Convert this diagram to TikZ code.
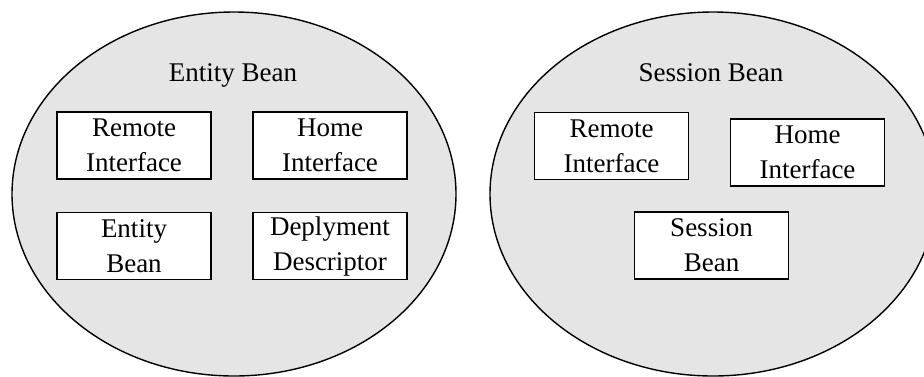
\documentclass[tikz,border=0pt]{standalone}
\usepackage{fontspec}
\setmainfont{Liberation Serif}
\usetikzlibrary{shapes.geometric}
\definecolor{zonegray}{RGB}{229,229,229}
\begin{document}
\begin{tikzpicture}[x=1pt,y=-1pt,
  zone/.style={ellipse, draw=black, line width=1.4pt, fill=zonegray, inner sep=0pt},
  part/.style={rectangle, draw=black, line width=1.4pt, fill=white,
    minimum width=154pt, minimum height=67pt, inner sep=0pt, align=center,
    font=\fontsize{27}{35}\selectfont},
  title/.style={anchor=base, inner sep=0pt, font=\fontsize{27}{35}\selectfont}]
  \useasboundingbox (0,0) rectangle (924,376);
  \clip (0,0) rectangle (924,376);

  % container of the entity bean parts
  \node[zone, minimum width=444pt, minimum height=364pt] (entity) at (234,194) {};
  \node[title] (entitytitle) at (233,81) {Entity Bean};
  \node[part] (eremote) at (134,145.5) {Remote\\Interface};
  \node[part] (ehome)   at (330,145.5) {Home\\Interface};
  \node[part] (ebean)   at (134,246)   {Entity\\Bean};
  \node[part] (edeploy) at (330,246)   {Deplyment\\Descriptor};

  % container of the session bean parts
  \node[zone, minimum width=446pt, minimum height=364pt] (session) at (713,194) {};
  \node[title] (sessiontitle) at (711,81) {Session Bean};
  \node[part] (sremote) at (611.5,146) {Remote\\Interface};
  \node[part] (shome)   at (807.5,152.5) {Home\\Interface};
  \node[part] (sbean)   at (711.5,245.5) {Session\\Bean};
\end{tikzpicture}
\end{document}
